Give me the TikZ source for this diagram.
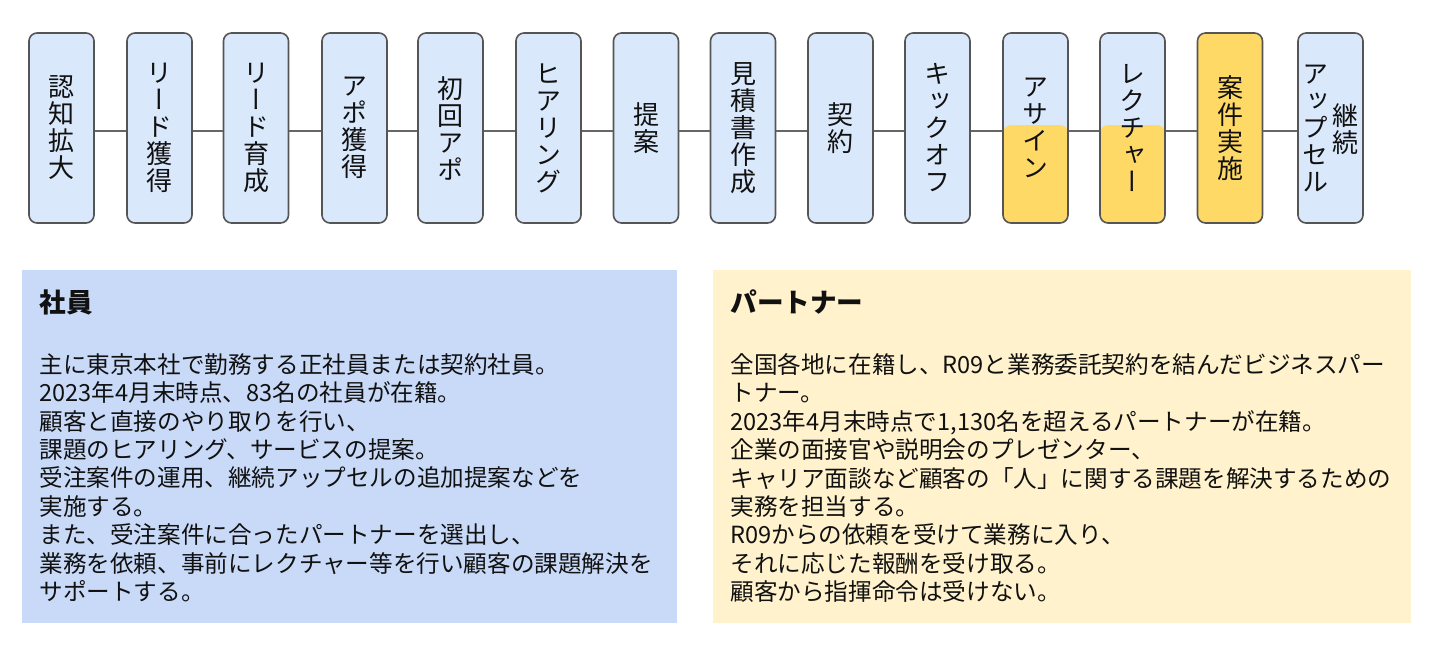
\documentclass[tikz,border=0pt]{standalone}
\usepackage{fontspec}
\setmainfont{Noto Sans CJK JP}
\newfontfamily\vjp[RawFeature=+vert]{Noto Sans CJK JP}
\definecolor{blueF}{HTML}{DAE8FC}
\definecolor{yelF}{HTML}{FFD966}
\definecolor{boxline}{HTML}{555555}
\definecolor{conline}{HTML}{666666}
\definecolor{panelB}{HTML}{C9DAF8}
\definecolor{panelY}{HTML}{FFF2CC}
\definecolor{txt}{HTML}{111111}
\begin{document}
\begin{tikzpicture}[x=0.5pt,y=-0.5pt,
  stage/.style={draw=boxline, line width=0.8pt, rounded corners=4pt, fill=blueF,
    minimum width=32.5pt, minimum height=95pt, inner sep=0pt, text=txt,
    font=\vjp\fontsize{13pt}{13.5pt}\selectfont, align=center},
  half/.style={path picture={\fill[yelF] (path picture bounding box.south west) rectangle ([yshift=1.5pt]path picture bounding box.east);}},
  full/.style={fill=yelF},
  vtext/.style={inner sep=0pt, text=txt, font=\vjp\fontsize{13pt}{13.5pt}\selectfont, align=center},
  conn/.style={draw=conline, line width=1pt},
  panel/.style={inner sep=0pt, minimum height=176.5pt, anchor=north west},
  ptitle/.style={inner sep=0pt, anchor=west, text=txt, font=\fontsize{13.3pt}{16pt}\selectfont\bfseries},
  pbody/.style={inner sep=0pt, anchor=north west, text=txt, align=left, font=\fontsize{11.8pt}{14.2pt}\selectfont}
]
\useasboundingbox (0,0) rectangle (1440,645);

\node[stage] (b1) at (61.5,128) {認\\知\\拡\\大};
\node[stage] (b2) at (159.5,128) {リ\\ー\\ド\\獲\\得};
\node[stage] (b3) at (256,128) {リ\\ー\\ド\\育\\成};
\node[stage] (b4) at (354.5,128) {ア\\ポ\\獲\\得};
\node[stage] (b5) at (450.5,128) {初\\回\\ア\\ポ};
\node[stage] (b6) at (548.5,128) {ヒ\\ア\\リ\\ン\\グ};
\node[stage] (b7) at (646,128) {提\\案};
\node[stage] (b8) at (743,128) {見\\積\\書\\作\\成};
\node[stage] (b9) at (840.5,128) {契\\約};
\node[stage] (b10) at (937.5,128) {キ\\ッ\\ク\\オ\\フ};
\node[stage, half] (b11) at (1035.5,128) {ア\\サ\\イ\\ン};
\node[stage, half] (b12) at (1132.5,128) {レ\\ク\\チ\\ャ\\ー};
\node[stage, full] (b13) at (1230,128) {案\\件\\実\\施};
\node[stage] (b14) at (1330.5,128) {};
\node[vtext] (b14a) at (1315,128) {ア\\ッ\\プ\\セ\\ル};
\node[vtext] (b14b) at (1345,129) {継\\続};

\foreach \a/\b in {b1/b2,b2/b3,b3/b4,b4/b5,b5/b6,b6/b7,b7/b8,b8/b9,b9/b10,b10/b11,b11/b12,b12/b13,b13/b14}{
  \draw[conn] ([yshift=-1.5pt]\a.east) -- ([yshift=-1.5pt]\b.west);
}

\node[panel, fill=panelB, minimum width=327.5pt] (emp) at (22,270) {};
\node[panel, fill=panelY, minimum width=349pt] (par) at (713,270) {};

\node[ptitle] (empT) at (39,302) {社員};
\node[pbody] (empB) at (39,353) {主に東京本社で勤務する正社員または契約社員。\\
2023年4月末時点、83名の社員が在籍。\\
顧客と直接のやり取りを行い、\\
課題のヒアリング、サービスの提案。\\
受注案件の運用、継続アップセルの追加提案などを\\
実施する。\\
また、受注案件に合ったパートナーを選出し、\\
業務を依頼、事前にレクチャー等を行い顧客の課題解決を\\
サポートする。};

\node[ptitle] (parT) at (730,302) {パートナー};
\node[pbody] (parB) at (730,353) {全国各地に在籍し、R09と業務委託契約を結んだビジネスパー\\
トナー。\\
2023年4月末時点で1,130名を超えるパートナーが在籍。\\
企業の面接官や説明会のプレゼンター、\\
キャリア面談など顧客の「人」に関する課題を解決するための\\
実務を担当する。\\
R09からの依頼を受けて業務に入り、\\
それに応じた報酬を受け取る。\\
顧客から指揮命令は受けない。};
\end{tikzpicture}
\end{document}
